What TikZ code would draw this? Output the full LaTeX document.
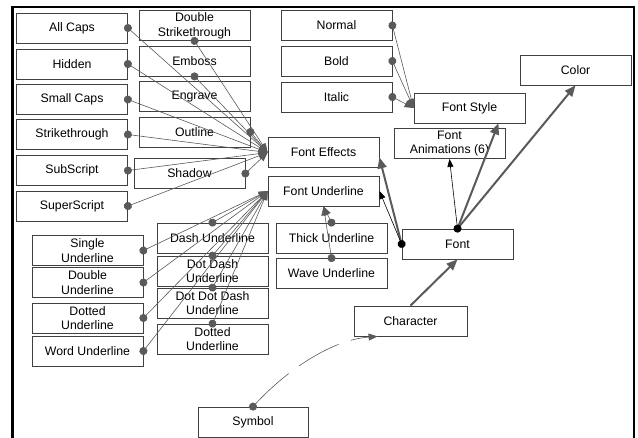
\documentclass[tikz,border=0pt]{standalone}
\usepackage{fontspec}
\setmainfont{Liberation Sans}
\usetikzlibrary{arrows.meta, positioning}
\definecolor{boxline}{HTML}{404040}
\definecolor{linkgray}{HTML}{5A5A5A}

\begin{document}
\begin{tikzpicture}[x=1pt, y=-1pt,
    item/.style = {rectangle, draw=boxline, fill=white, line width=0.8pt, align=center, font=\fontsize{12.3}{14.8}\selectfont, minimum width=111pt, minimum height=30pt, inner sep=1pt},
    link/.style = {draw=linkgray, line width=0.6pt, {Circle[length=8pt]}-{Triangle[length=9pt,width=7pt]}, shorten <=-4pt},
    blink/.style = {draw=black, line width=0.6pt, {Circle[length=8pt]}-{Triangle[length=8pt,width=6pt]}, shorten <=-4pt},
    heavy/.style = {draw=linkgray, line width=2pt, -{Triangle[length=11pt,width=9pt]}},
    dlink/.style = {link, dash pattern=on 45pt off 13pt}
]
\useasboundingbox (0,0) rectangle (638,437);

% frame
\draw [line width=2.5pt] (12.5,445) -- (12.5,7) -- (634,7) -- (634,445);

% font effects
\node (allcaps) [item] at (72,28) {All Caps};
\node (hidden) [item] at (72,64) {Hidden};
\node (smallcaps) [item] at (72,99.5) {Small Caps};
\node (strike) [item] at (72,134.5) {Strikethrough};
\node (subscr) [item] at (72,170.5) {SubScript};
\node (superscr) [item] at (72,206) {SuperScript};
\node (dblstrike) [item] at (194.5,25.5) {Double\\Strikethrough};
\node (emboss) [item] at (194.5,61) {Emboss};
\node (engrave) [item] at (194.5,96.5) {Engrave};
\node (outline) [item] at (194.5,132) {Outline};
\node (shadow) [item] at (189.5,173.5) {Shadow};

% underlines
\node (single) [item] at (87.5,250.5) {Single\\Underline};
\node (double) [item] at (87.5,282.5) {Double\\Underline};
\node (dottedl) [item] at (87.5,318) {Dotted\\Underline};
\node (word) [item] at (87.5,351) {Word Underline};
\node (dash) [item] at (212.5,238) {Dash Underline};
\node (dotdash) [item] at (212.5,271) {Dot Dash\\Underline};
\node (dotdotdash) [item] at (212.5,303) {Dot Dot Dash\\Underline};
\node (dottedr) [item] at (212.5,339) {Dotted\\Underline};
\node (thick) [item] at (331.5,238) {Thick Underline};
\node (wave) [item] at (331.5,273.5) {Wave Underline};

% styles
\node (normal) [item] at (336.5,25.5) {Normal};
\node (bold) [item] at (336.5,61) {Bold};
\node (italic) [item] at (336.5,97) {Italic};

% main nodes
\node (fonteffects) [item] at (323.5,152.5) {Font Effects};
\node (fontunderline) [item] at (323.5,191) {Font Underline};
\node (fontstyle) [item] at (469.5,108) {Font Style};
\node (fontanim) [item] at (449.5,143.5) {Font\\Animations (6)};
\node (color) [item] at (575.5,70) {Color};
\node (font) [item] at (457.5,244) {Font};
\node (character) [item, minimum width=113pt] at (410.5,321) {Character};
\node (symbol) [item, minimum width=110pt] at (253,422) {Symbol};

\draw [link] (allcaps.east) -- (fonteffects.west);
\draw [link] (hidden.east) -- (fonteffects.west);
\draw [link] (smallcaps.east) -- (fonteffects.west);
\draw [link] (strike.east) -- (fonteffects.west);
\draw [link] (subscr.east) -- (fonteffects.west);
\draw [link] (superscr.east) -- (fonteffects.west);
\draw [link] (dblstrike.south) -- (fonteffects.west);
\draw [link] (emboss.south) -- (fonteffects.west);
\draw [link] (outline.east) -- (fonteffects.west);
\draw [link] (shadow.east) -- (fonteffects.west);

\draw [link] (single.east) -- (fontunderline.west);
\draw [link] (double.east) -- (fontunderline.west);
\draw [link] (dottedl.east) -- (fontunderline.west);
\draw [link] (word.east) -- (fontunderline.west);
\draw [link] (dash.north) -- (fontunderline.west);
\draw [link] (dotdash.north) -- (fontunderline.west);
\draw [link] (dotdotdash.north) -- (fontunderline.west);
\draw [link] (dottedr.north) -- (fontunderline.west);
\draw [link] (thick.north) -- (fontunderline.south);
\draw [link] (wave.north) -- (fontunderline.south);

\draw [link] (normal.east) -- (fontstyle.west);
\draw [link] (bold.east) -- (fontstyle.west);
\draw [link] (italic.east) -- (fontstyle.west);

\draw [heavy] (character.north) -- (font.south);
\draw [heavy] (font.west) -- (fonteffects.-5);
\draw [heavy] (font.north) -- (fontstyle.-28);
\draw [heavy] (font.north) -- (color.south);
\draw [blink] (font.west) -- (fontunderline.east);
\draw [blink] (font.north) -- (fontanim.south);

% symbol is a kind of character
\draw [dlink] (symbol.north) .. controls (285,372) and (330,340) .. ([xshift=24pt]character.south west);

\end{tikzpicture}
\end{document}
